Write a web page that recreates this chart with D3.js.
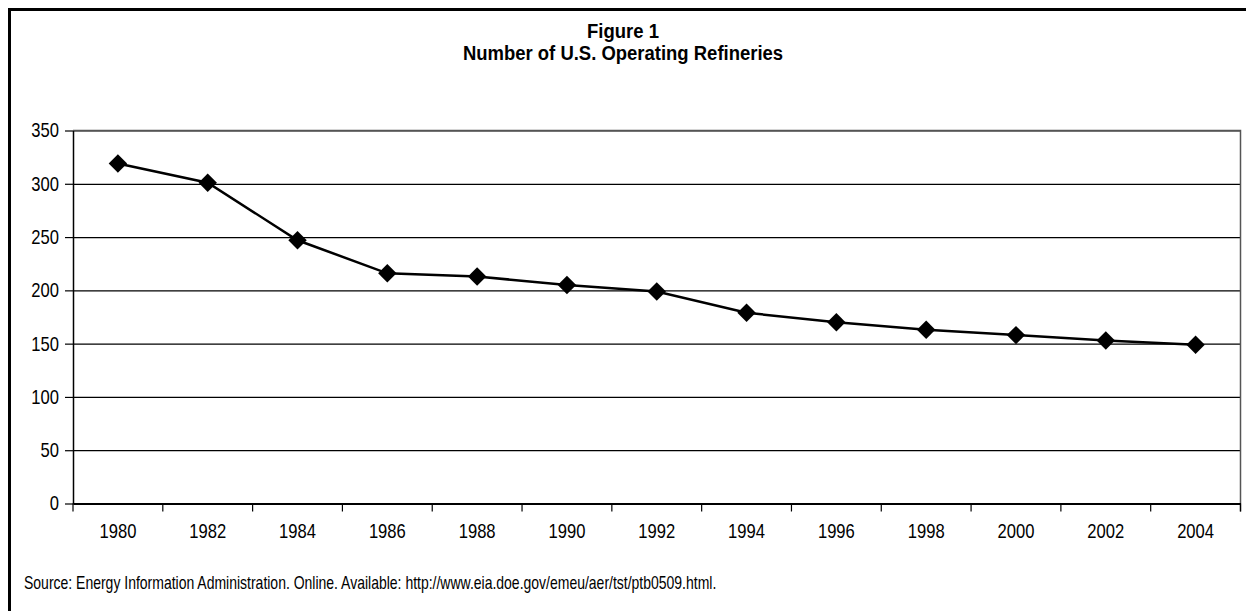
<!DOCTYPE html>
<html>
<head>
<meta charset="utf-8">
<script src="https://cdn.jsdelivr.net/npm/d3@7/dist/d3.min.js"></script>
<style>
  html, body { margin: 0; padding: 0; background: #fff; }
  svg { display: block; font-family: "Liberation Sans", Arial, sans-serif; }
</style>
</head>
<body>
<svg id="chart" width="1246" height="611"></svg>
<script>
// Operating refineries in the U.S., every second year
const years = ["1980", "1982", "1984", "1986", "1988", "1990", "1992",
               "1994", "1996", "1998", "2000", "2002", "2004"];
const refineries = [319, 301, 247, 216, 213, 205, 199, 179, 170, 163, 158, 153, 149];
const yTicks = [0, 50, 100, 150, 200, 250, 300, 350];
const titleLines = ["Figure 1", "Number of U.S. Operating Refineries"];
const sourceNote = "Source: Energy Information Administration. Online. Available: http://www.eia.doe.gov/emeu/aer/tst/ptb0509.html.";

const svg = d3.select("#chart");
const W = 1246, H = 611;
const plot = { left: 73, right: 1240.5, top: 130.5, bottom: 503.5 };

// condensed lettering: tall glyphs squeezed horizontally
const AXIS_FONT = 20, AXIS_SX = 0.83;
const TITLE_FONT = 21, TITLE_SX = 0.88;
const NOTE_FONT = 17.5, NOTE_SX = 0.8;

function condense(sel, size, sx) {
  sel.attr("font-size", size)
    .attr("fill", "#000")
    .attr("font-family", "Liberation Sans, Arial, sans-serif")
    .attr("transform", `scale(${sx},1)`)
    .attr("x", function () { return (+this.getAttribute("x") || 0) / sx; });
}

// outer frame (runs off the right and bottom edges)
svg.append("rect")
  .attr("x", 9.5).attr("y", 9.5)
  .attr("width", W + 20).attr("height", H + 20)
  .attr("fill", "none").attr("stroke", "#000").attr("stroke-width", 3);

// title
svg.append("g").selectAll("g")
  .data(titleLines)
  .join("g")
  .attr("transform", (d, i) => `translate(623,${37.5 + i * 22})`)
  .append("text")
  .attr("text-anchor", "middle")
  .attr("font-weight", "bold")
  .text(d => d)
  .call(condense, TITLE_FONT, TITLE_SX);

const x = d3.scaleBand().domain(years).range([plot.left, plot.right]).padding(0);
const y = d3.scaleLinear().domain([0, 350]).range([plot.bottom, plot.top]);
const w = plot.right - plot.left;

// horizontal gridlines
svg.append("g")
  .attr("transform", `translate(${plot.left},0)`)
  .call(d3.axisLeft(y).tickValues(yTicks).tickSize(-w).tickFormat(""))
  .call(g => g.select(".domain").remove())
  .call(g => g.selectAll("line").attr("stroke", "#000").attr("stroke-width", 1.2));

// plot frame: top and right
svg.append("path")
  .attr("d", `M${plot.left},${plot.top}H${plot.right}V${plot.bottom + 8}`)
  .attr("fill", "none").attr("stroke", "#555").attr("stroke-width", 1.5);

// y axis with labels
svg.append("g")
  .attr("transform", `translate(${plot.left},0)`)
  .call(d3.axisLeft(y).tickValues(yTicks).tickSize(8).tickPadding(6).tickSizeOuter(0))
  .call(g => g.select(".domain").attr("stroke", "#000").attr("stroke-width", 1.5))
  .call(g => g.selectAll("line").attr("stroke", "#000").attr("stroke-width", 1.2))
  .call(g => g.selectAll("text").call(condense, AXIS_FONT, AXIS_SX));

// x axis: labels centred in each category
svg.append("g")
  .attr("transform", `translate(0,${plot.bottom})`)
  .call(d3.axisBottom(x).tickSize(0).tickPadding(20).tickSizeOuter(0))
  .call(g => g.select(".domain").attr("stroke", "#000").attr("stroke-width", 2))
  .call(g => g.selectAll("text").call(condense, AXIS_FONT, AXIS_SX));

// x tick marks between categories
const boundaries = years.map(d => x(d)).concat([plot.right]);
svg.append("g").selectAll("line")
  .data(boundaries)
  .join("line")
  .attr("x1", d => d).attr("x2", d => d)
  .attr("y1", plot.bottom).attr("y2", plot.bottom + 8)
  .attr("stroke", "#000").attr("stroke-width", 1.2);

// series line
const cx = d => x(d) + x.bandwidth() / 2;
svg.append("path")
  .datum(years.map((d, i) => [cx(d), y(refineries[i])]))
  .attr("d", d3.line())
  .attr("fill", "none").attr("stroke", "#000").attr("stroke-width", 2.5);

// diamond markers
svg.append("g").selectAll("path")
  .data(years)
  .join("path")
  .attr("transform", (d, i) => `translate(${cx(d)},${y(refineries[i])}) rotate(45)`)
  .attr("d", d3.symbol().type(d3.symbolSquare).size(170))
  .attr("fill", "#000");

// source note
svg.append("g")
  .attr("transform", "translate(24,588.5)")
  .append("text")
  .text(sourceNote)
  .call(condense, NOTE_FONT, NOTE_SX);
</script>
</body>
</html>
